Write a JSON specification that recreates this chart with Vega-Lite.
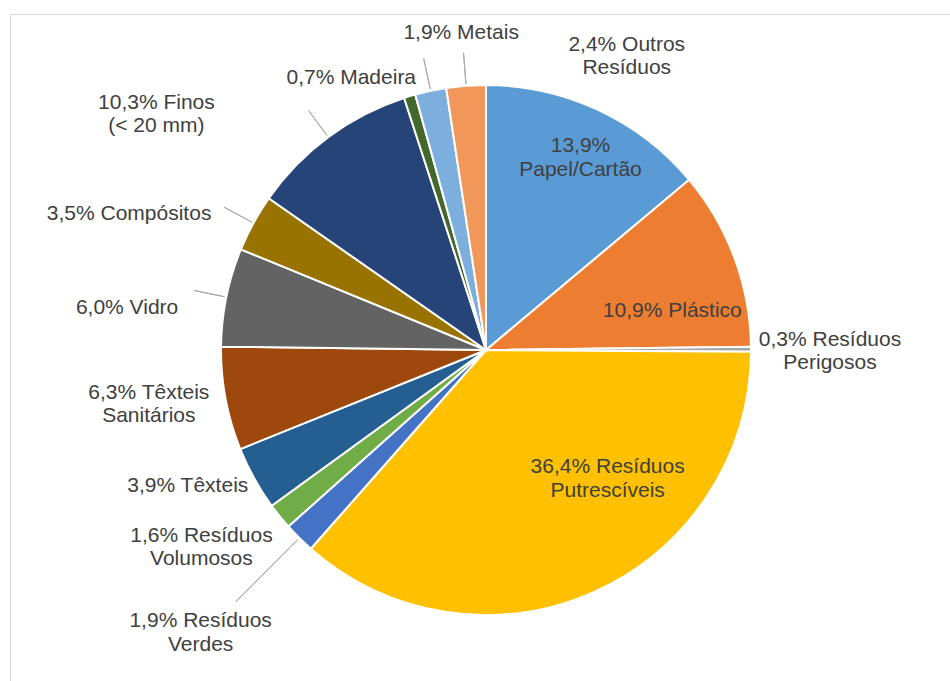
{
  "$schema": "https://vega.github.io/schema/vega-lite/v6.json",
  "width": 952,
  "height": 672,
  "autosize": {"type": "none"},
  "padding": {"left": 10, "top": 14, "right": -12, "bottom": -5},
  "background": "white",
  "view": {"stroke": "#D9D9D9", "strokeWidth": 1},
  "config": {
    "view": {"stroke": "#D9D9D9", "strokeWidth": 1},
    "text": {"font": "Liberation Sans", "fontSize": 21, "fill": "#404040", "lineBreak": "\n", "lineHeight": 23.5, "baseline": "middle"}
  },
  "data": {"values": [
    {"o": 1, "cat": "Papel/Cartão", "v": 13.9, "label": "13,9%\nPapel/Cartão"},
    {"o": 2, "cat": "Plástico", "v": 10.9, "label": "10,9% Plástico"},
    {"o": 3, "cat": "Resíduos Perigosos", "v": 0.3, "label": "0,3% Resíduos\nPerigosos"},
    {"o": 4, "cat": "Resíduos Putrescíveis", "v": 36.4, "label": "36,4% Resíduos\nPutrescíveis"},
    {"o": 5, "cat": "Resíduos Verdes", "v": 1.9, "label": "1,9% Resíduos\nVerdes"},
    {"o": 6, "cat": "Resíduos Volumosos", "v": 1.6, "label": "1,6% Resíduos\nVolumosos"},
    {"o": 7, "cat": "Têxteis", "v": 3.9, "label": "3,9% Têxteis"},
    {"o": 8, "cat": "Têxteis Sanitários", "v": 6.3, "label": "6,3% Têxteis\nSanitários"},
    {"o": 9, "cat": "Vidro", "v": 6.0, "label": "6,0% Vidro"},
    {"o": 10, "cat": "Compósitos", "v": 3.5, "label": "3,5% Compósitos"},
    {"o": 11, "cat": "Finos (< 20 mm)", "v": 10.3, "label": "10,3% Finos\n(< 20 mm)"},
    {"o": 12, "cat": "Madeira", "v": 0.7, "label": "0,7% Madeira"},
    {"o": 13, "cat": "Metais", "v": 1.9, "label": "1,9% Metais"},
    {"o": 14, "cat": "Outros Resíduos", "v": 2.4, "label": "2,4% Outros\nResíduos"}
  ]},
  "encoding": {
    "theta": {"field": "v", "type": "quantitative", "stack": true},
    "order": {"field": "o", "type": "quantitative"},
    "detail": {"field": "cat", "type": "nominal"}
  },
  "layer": [
    {
      "mark": {"type": "arc", "outerRadius": 265, "stroke": "#ffffff", "strokeWidth": 2},
      "encoding": {
        "color": {"field": "cat", "type": "nominal", "legend": null,
          "scale": {
            "domain": ["Papel/Cartão", "Plástico", "Resíduos Perigosos", "Resíduos Putrescíveis", "Resíduos Verdes", "Resíduos Volumosos", "Têxteis", "Têxteis Sanitários", "Vidro", "Compósitos", "Finos (< 20 mm)", "Madeira", "Metais", "Outros Resíduos"],
            "range": ["#5B9BD5", "#ED7D31", "#A5A5A5", "#FFC000", "#4472C4", "#70AD47", "#255E91", "#9E480E", "#636363", "#997300", "#264478", "#43682B", "#7CAFDD", "#F1975A"]
          }}
      }
    },
    {
      "mark": {"type": "arc", "innerRadius": 267, "outerRadius": 355, "padAngle": 3, "fill": "transparent", "stroke": "#A6A6A6", "strokeWidth": 1},
      "encoding": {"strokeOpacity": {"condition": {"test": "datum.o === 5", "value": 1}, "value": 0}}
    },
    {
      "mark": {"type": "arc", "innerRadius": 267, "outerRadius": 298, "padAngle": 3, "fill": "transparent", "stroke": "#A6A6A6", "strokeWidth": 1},
      "encoding": {"strokeOpacity": {"condition": {"test": "datum.o === 9 || datum.o === 10 || datum.o === 11 || datum.o === 13 || datum.o === 14", "value": 1}, "value": 0}}
    },
    {"mark": {"type": "text", "radius": 214, "align": "center", "dx": 4, "dy": -10},
     "encoding": {"text": {"condition": {"test": "datum.o === 1", "field": "label", "type": "nominal"}, "value": ""}}},
    {"mark": {"type": "text", "radius": 188, "align": "center", "dx": 10, "dy": 26},
     "encoding": {"text": {"condition": {"test": "datum.o === 2", "field": "label", "type": "nominal"}, "value": ""}}},
    {"mark": {"type": "text", "radius": 344, "align": "center", "dx": 0, "dy": -9},
     "encoding": {"text": {"condition": {"test": "datum.o === 3", "field": "label", "type": "nominal"}, "value": ""}}},
    {"mark": {"type": "text", "radius": 168, "align": "center", "dx": 53, "dy": -36},
     "encoding": {"text": {"condition": {"test": "datum.o === 4", "field": "label", "type": "nominal"}, "value": ""}}},
    {"mark": {"type": "text", "radius": 402, "align": "center", "dx": -2, "dy": -14},
     "encoding": {"text": {"condition": {"test": "datum.o === 5", "field": "label", "type": "nominal"}, "value": ""}}},
    {"mark": {"type": "text", "radius": 345, "align": "center", "dx": -16, "dy": -31},
     "encoding": {"text": {"condition": {"test": "datum.o === 6", "field": "label", "type": "nominal"}, "value": ""}}},
    {"mark": {"type": "text", "radius": 274, "align": "right", "dx": 2, "dy": 3},
     "encoding": {"text": {"condition": {"test": "datum.o === 7", "field": "label", "type": "nominal"}, "value": ""}}},
    {"mark": {"type": "text", "radius": 341, "align": "center", "dx": -2, "dy": -20},
     "encoding": {"text": {"condition": {"test": "datum.o === 8", "field": "label", "type": "nominal"}, "value": ""}}},
    {"mark": {"type": "text", "radius": 310, "align": "right", "dx": -4, "dy": 20},
     "encoding": {"text": {"condition": {"test": "datum.o === 9", "field": "label", "type": "nominal"}, "value": ""}}},
    {"mark": {"type": "text", "radius": 306, "align": "right", "dx": -6, "dy": 11},
     "encoding": {"text": {"condition": {"test": "datum.o === 10", "field": "label", "type": "nominal"}, "value": ""}}},
    {"mark": {"type": "text", "radius": 300, "align": "center", "dx": -151, "dy": -6},
     "encoding": {"text": {"condition": {"test": "datum.o === 11", "field": "label", "type": "nominal"}, "value": ""}}},
    {"mark": {"type": "text", "radius": 281, "align": "right", "dx": 11, "dy": -3},
     "encoding": {"text": {"condition": {"test": "datum.o === 12", "field": "label", "type": "nominal"}, "value": ""}}},
    {"mark": {"type": "text", "radius": 315, "align": "center", "dx": 41, "dy": -9},
     "encoding": {"text": {"condition": {"test": "datum.o === 13", "field": "label", "type": "nominal"}, "value": ""}}},
    {"mark": {"type": "text", "radius": 282, "align": "center", "dx": 162, "dy": -24},
     "encoding": {"text": {"condition": {"test": "datum.o === 14", "field": "label", "type": "nominal"}, "value": ""}}}
  ]
}
